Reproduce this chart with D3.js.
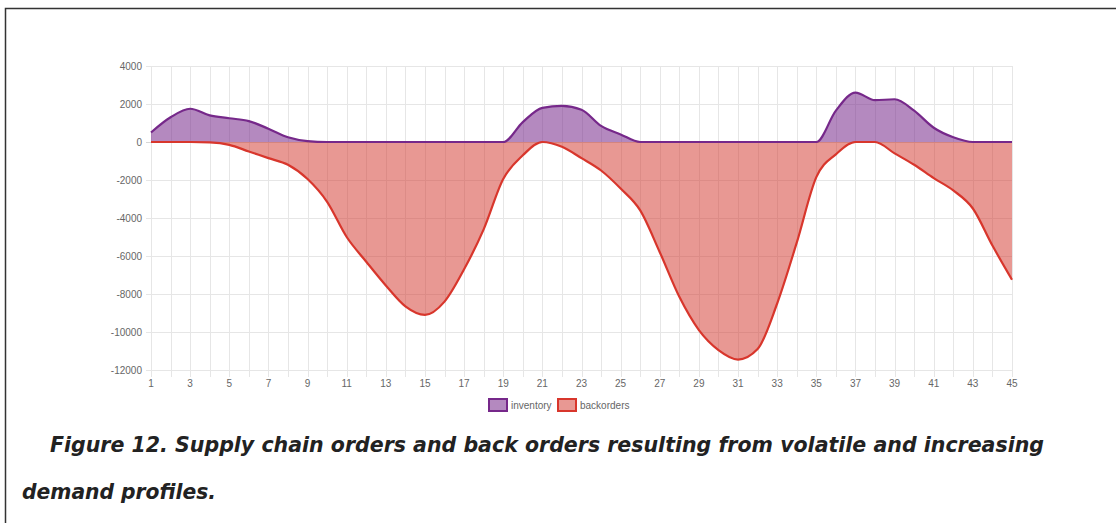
<!DOCTYPE html>
<html>
<head>
<meta charset="utf-8">
<script src="https://cdn.jsdelivr.net/npm/d3@7"></script>
<style>
  body { margin: 0; background: #fff; }
  #chart { width: 1116px; height: 523px; }
</style>
</head>
<body>
<div id="chart"></div>
<script>
const periods = d3.range(1, 46);
const inventory = [
  500, 1300, 1750, 1400, 1250, 1100, 700, 250, 50, 0,
  0, 0, 0, 0, 0, 0, 0, 0, 0, 1050,
  1800, 1900, 1700, 850, 400, 0, 0, 0, 0, 0,
  0, 0, 0, 0, 0, 1650, 2600, 2200, 2250, 1650,
  750, 250, 0, 0, 0
];
const backorders = [
  0, 0, 0, -20, -150, -500, -850, -1200, -1950, -3150,
  -5000, -6300, -7550, -8650, -9100, -8400, -6700, -4600, -1950, -700,
  0, -250, -850, -1500, -2450, -3600, -5800, -8150, -9900, -10950,
  -11450, -10900, -8500, -5300, -1850, -650, 0, 0, -600, -1200,
  -1900, -2550, -3500, -5450, -7250
];
const yTicks = [4000, 2000, 0, -2000, -4000, -6000, -8000, -10000, -12000];
const xTicks = periods.filter((d) => d % 2 === 1);
const caption = [
  "Figure 12. Supply chain orders and back orders resulting from volatile and increasing",
  "demand profiles.",
];

const W = 1116, H = 523;
const margin = { top: 66, right: 104, bottom: 153, left: 151 };
const width = W - margin.left - margin.right;
const height = H - margin.top - margin.bottom;

const svg = d3.select("#chart").append("svg")
  .attr("width", W).attr("height", H);

// frame
svg.append("path")
  .attr("d", `M${W},8.5 L5.5,8.5 L5.5,${H}`)
  .attr("fill", "none").attr("stroke", "#333").attr("stroke-width", 1.5);

const g = svg.append("g")
  .attr("transform", `translate(${margin.left},${margin.top})`);

const x = d3.scaleLinear().domain([1, 45]).range([0, width]);
const y = d3.scaleLinear().domain([-12000, 4000]).range([height, 0]);

// grid
g.append("g").selectAll("line").data(periods).join("line")
  .attr("x1", (d) => Math.round(x(d)) + 0.5).attr("x2", (d) => Math.round(x(d)) + 0.5)
  .attr("y1", 0).attr("y2", height + 7)
  .attr("stroke", "#e6e6e6");
g.append("g").selectAll("line").data(yTicks).join("line")
  .attr("x1", -5).attr("x2", width)
  .attr("y1", (d) => Math.round(y(d)) + 0.5).attr("y2", (d) => Math.round(y(d)) + 0.5)
  .attr("stroke", (d) => (d === 0 ? "#d6d6d6" : "#e6e6e6"));

// axes labels
const font = "Helvetica, Arial, 'Liberation Sans', sans-serif";
g.append("g").selectAll("text").data(yTicks).join("text")
  .attr("x", -9).attr("y", (d) => y(d)).attr("dy", "0.35em")
  .attr("text-anchor", "end")
  .style("font-family", font).style("font-size", "10px").style("fill", "#666")
  .text((d) => d);
g.append("g").selectAll("text").data(xTicks).join("text")
  .attr("x", (d) => x(d)).attr("y", height + 17)
  .attr("text-anchor", "middle")
  .style("font-family", font).style("font-size", "10px").style("fill", "#666")
  .text((d) => d);

const curve = d3.curveMonotoneX;
const area = (vals) => d3.area().curve(curve)
  .x((d, i) => x(periods[i])).y0(y(0)).y1((d) => y(d))(vals);
const line = (vals) => d3.line().curve(curve)
  .x((d, i) => x(periods[i])).y((d) => y(d))(vals);

const series = [
  { name: "inventory", values: inventory, stroke: "#76288a", fill: "rgba(118,40,138,0.55)" },
  { name: "backorders", values: backorders, stroke: "#d8362c", fill: "rgba(210,50,40,0.5)" },
];

series.forEach((s) => {
  g.append("path").attr("d", area(s.values)).attr("fill", s.fill);
});
series.forEach((s) => {
  g.append("path").attr("d", line(s.values))
    .attr("fill", "none").attr("stroke", s.stroke).attr("stroke-width", 2.2)
    .attr("stroke-linejoin", "round");
});

// legend
const legend = svg.append("g").attr("transform", "translate(489,399)");
const items = legend.selectAll("g").data(series).join("g")
  .attr("transform", (d, i) => `translate(${i * 69},0)`);
items.append("rect")
  .attr("x", 0).attr("y", 0).attr("width", 18).attr("height", 12)
  .attr("fill", (d) => d.fill).attr("stroke", (d) => d.stroke).attr("stroke-width", 2);
items.append("text")
  .attr("x", 22).attr("y", 6).attr("dy", "0.35em")
  .style("font-family", font).style("font-size", "10px").style("fill", "#666")
  .text((d) => d.name);

// caption
svg.selectAll(".cap").data(caption).join("text")
  .attr("class", "cap")
  .attr("x", (d, i) => (i === 0 ? 50 : 22))
  .attr("y", (d, i) => (i === 0 ? 452 : 499))
  .attr("textLength", (d, i) => (i === 0 ? 994 : 194))
  .attr("lengthAdjust", "spacingAndGlyphs")
  .style("font-family", "'DejaVu Sans', sans-serif")
  .style("font-size", "22px").style("font-weight", "bold").style("font-style", "italic")
  .style("fill", "#222")
  .text((d) => d);
</script>
</body>
</html>
